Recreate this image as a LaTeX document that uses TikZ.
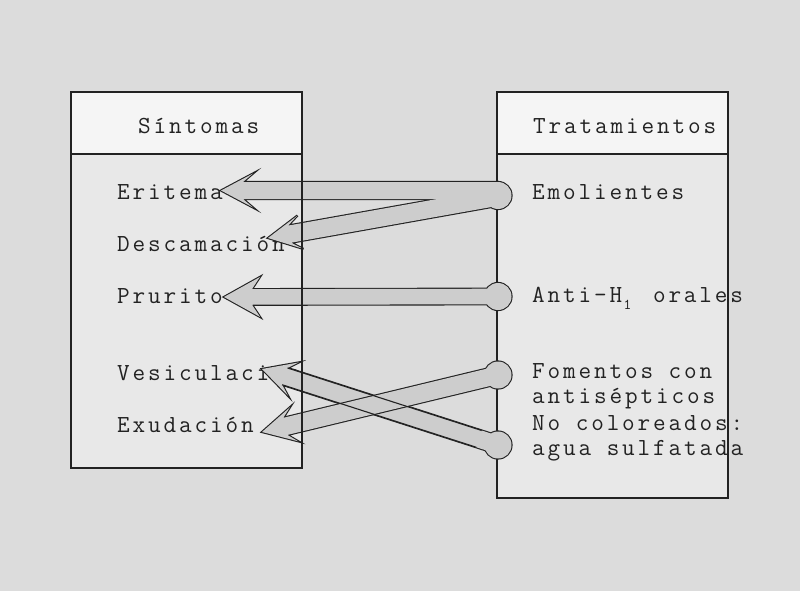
\documentclass[tikz,border=0pt]{standalone}
\usepackage{fontspec}
\newfontfamily\mono{Latin Modern Mono}[LetterSpace=11.7]
\usetikzlibrary{calc}
\definecolor{bgc}{HTML}{DCDCDC}
\definecolor{bodyc}{HTML}{E8E8E8}
\definecolor{headc}{HTML}{F5F5F5}
\definecolor{arrc}{HTML}{CDCDCD}
\definecolor{linec}{HTML}{222222}
\tikzset{
  lbl/.style={anchor=base west, inner sep=0pt, font=\mono\fontsize{24.5}{25}\selectfont, text=linec},
  boxline/.style={draw=linec, line width=1.2pt},
  arrout/.style={draw=linec, line width=2.2pt},
  arredge/.style={draw=linec, line width=1.1pt},
  arrfill/.style={fill=arrc},
}
% #1 prefix, #2 start, #3 tip, #4 shaft half width, #5 head length, #6 head half width, #7 notch
\newcommand\fatarrow[7]{%
  \coordinate (#1j) at ($(#3)!#7!(#2)$);
  \coordinate (#1b) at ($(#3)!#5!(#2)$);
  \coordinate (#1sl) at ($(#2)!#4!90:(#3)$);
  \coordinate (#1sr) at ($(#2)!#4!-90:(#3)$);
  \coordinate (#1jl) at ($(#1j)!#4!90:(#3)$);
  \coordinate (#1jr) at ($(#1j)!#4!-90:(#3)$);
  \coordinate (#1bl) at ($(#1b)!#6!90:(#3)$);
  \coordinate (#1br) at ($(#1b)!#6!-90:(#3)$);
}
\newcommand\arrowshape[3]{\path[#3] (#1sl) -- (#1jl) -- (#1bl) -- (#2) -- (#1br) -- (#1jr) -- (#1sr) -- cycle;}
\begin{document}
\begin{tikzpicture}[x=1pt,y=-1pt]
\fill[bgc] (0,0) rectangle (800,591);
\useasboundingbox (0,0) rectangle (800,591);
% boxes
\draw[boxline, fill=bodyc] (71,92) rectangle (302,468);
\draw[boxline, fill=headc] (71,92) rectangle (302,154);
\draw[boxline, fill=bodyc] (497,92) rectangle (728,498);
\draw[boxline, fill=headc] (497,92) rectangle (728,154);
% texts
\node[lbl] (sint) at (138,133) {Síntomas};
\node[lbl] (eri) at (117,199) {Eritema};
\node[lbl] (desc) at (117,251) {Descamación};
\node[lbl] (prur) at (117,303) {Prurito};
\node[lbl] (vesi) at (117,380) {Vesiculación};
\node[lbl] (exud) at (117,432) {Exudación};
\node[lbl] (trat) at (533,133) {Tratamientos};
\node[lbl] (emol) at (532,199) {Emolientes};
\node[lbl] (anti) at (532,302) {Anti-H\makebox[15.3pt][l]{\hspace{1.5pt}\raisebox{-7pt}{\fontsize{15}{15}\selectfont 1}} orales};
\node[lbl] (fom1) at (532,378) {Fomentos con};
\node[lbl] (fom2) at (532,403) {antisépticos};
\node[lbl] (agu1) at (532,430) {No coloreados:};
\node[lbl] (agu2) at (532,455) {agua sulfatada};
% arrow coordinates
\coordinate (cE) at (498,195.5);
\coordinate (s1) at (498,190.5); \coordinate (t1) at (221,190.5);
\coordinate (s2) at (498,197);   \coordinate (t2) at (268,238);
\coordinate (cA) at (498,296.5); \coordinate (t3) at (224,297);
\coordinate (cF) at (498,375);   \coordinate (t4) at (262,432);
\coordinate (cN) at (498,445);   \coordinate (t5) at (262,369);
\fatarrow{a1}{s1}{t1}{8.5pt}{32pt}{17pt}{22pt}
\fatarrow{a2}{s2}{t2}{8.7pt}{33pt}{17pt}{22pt}
\fatarrow{a3}{cA}{t3}{7.8pt}{36pt}{20pt}{28pt}
\fatarrow{a4}{cF}{t4}{8.8pt}{33pt}{17.5pt}{24pt}
\fatarrow{a5}{cN}{t5}{8.8pt}{33pt}{17.5pt}{24pt}
% Emolientes (union of two arrows and the round end)
\arrowshape{a1}{t1}{arrout}
\arrowshape{a2}{t2}{arrout}
\draw[arrout] (cE) circle (13.5);
\arrowshape{a1}{t1}{arrfill}
\arrowshape{a2}{t2}{arrfill}
\fill[arrc] (cE) circle (13.5);
% Anti-H1 -> Prurito
\arrowshape{a3}{t3}{arrout}
\draw[arrout] (cA) circle (13.5);
\arrowshape{a3}{t3}{arrfill}
\fill[arrc] (cA) circle (13.5);
% agua sulfatada -> Vesiculacion
\arrowshape{a5}{t5}{arrout}
\draw[arrout] (cN) circle (13.5);
\arrowshape{a5}{t5}{arrfill}
\fill[arrc] (cN) circle (13.5);
% Fomentos -> Exudacion
\arrowshape{a4}{t4}{arrout}
\draw[arrout] (cF) circle (13.5);
\arrowshape{a4}{t4}{arrfill}
\fill[arrc] (cF) circle (13.5);
% edges of the lower arrow seen through the crossing
\coordinate (a5ml) at ($(a5sl)!20pt!(a5jl)$);
\coordinate (a5mr) at ($(a5sr)!20pt!(a5jr)$);
\draw[arredge] (a5ml) -- (a5jl);
\draw[arredge] (a5mr) -- (a5jr);
% left box border shows over the arrows
\draw[boxline] (302,154) -- (302,468);
\end{tikzpicture}
\end{document}
